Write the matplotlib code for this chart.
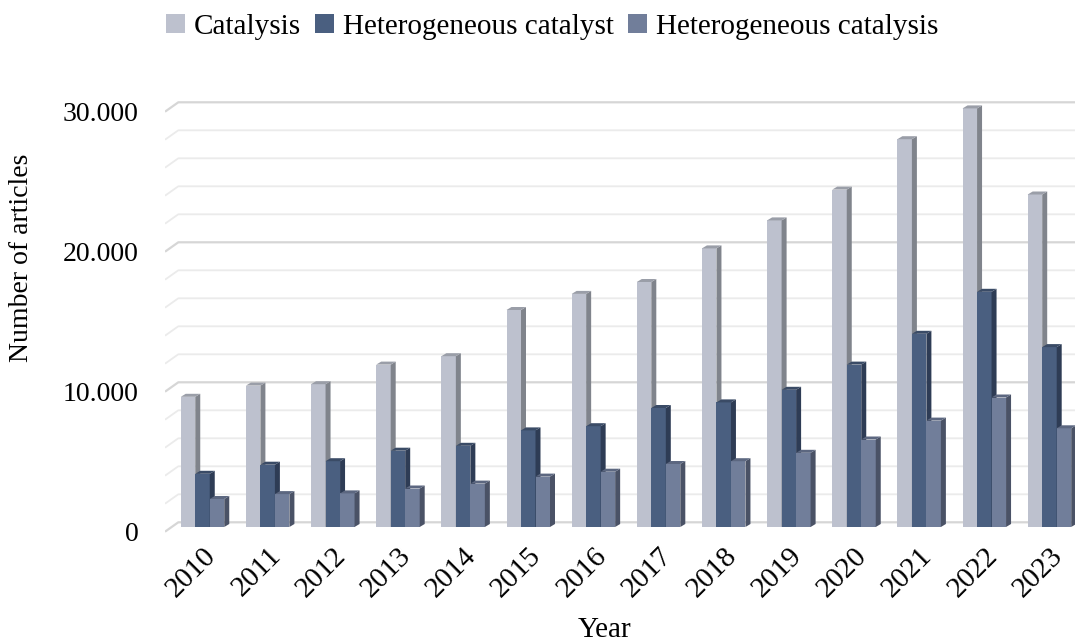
import matplotlib.pyplot as plt
from matplotlib.patches import Polygon

years = [str(y) for y in range(2010, 2024)]
catalysis = [9300, 10100, 10200, 11600, 12200, 15500, 16650, 17500,
             19900, 21900, 24100, 27700, 29900, 23750]
het_catalyst = [3800, 4450, 4700, 5450, 5800, 6900, 7200, 8500,
                8900, 9800, 11600, 13800, 16800, 12850]
het_catalysis = [2000, 2350, 2400, 2750, 3100, 3600, 3950, 4500,
                 4700, 5300, 6250, 7600, 9250, 7050]
series_names = ["Catalysis", "Heterogeneous catalyst", "Heterogeneous catalysis"]
y_ticks = [0, 10000, 20000, 30000]

front_colors = ["#BDC1CE", "#4A5F80", "#717E9A"]
side_colors = ["#80848C", "#2E3C55", "#4A5266"]
top_colors = ["#9A9EA8", "#3A4B66", "#5C6780"]

plt.rcParams["font.family"] = ["Liberation Serif", "DejaVu Serif"]

fig = plt.figure(figsize=(10.8, 6.43), dpi=100)
ax = fig.add_axes([165 / 1080, 103 / 643, 910 / 1080, 445 / 643])

px_per_unit_x = 65.15
px_per_unit_y = 0.014
ax.set_xlim((165 - 202.5) / px_per_unit_x, (1075 - 202.5) / px_per_unit_x)
ax.set_ylim(-(540 - 527) / px_per_unit_y, (527 - 95) / px_per_unit_y)

# perspective offsets (in data units)
bar_w = 14.5 / px_per_unit_x
bar_dx = 5 / px_per_unit_x
bar_dy = 3 / px_per_unit_y
wall_dx = 13.3 / px_per_unit_x
wall_dy = 4.7 / px_per_unit_y
x_left = ax.get_xlim()[0]
x_right = ax.get_xlim()[1]

# back wall gridlines + left wall diagonals
for v in range(0, 30001, 2000):
    major = v % 10000 == 0
    col = "#D6D6D6" if major else "#EBEBEB"
    lw = 1.6 if major else 1.3
    ax.plot([x_left, x_left + wall_dx, x_right], [v - wall_dy, v + wall_dy, v + wall_dy],
            color=col, lw=lw, zorder=1, solid_capstyle="butt")

data = [catalysis, het_catalyst, het_catalysis]
for k, values in enumerate(data):
    for i, v in enumerate(values):
        x0 = i + (k - 1.5) * bar_w
        x1 = x0 + bar_w
        ax.add_patch(Polygon([(x0, 0), (x1, 0), (x1, v), (x0, v)],
                             closed=True, facecolor=front_colors[k], edgecolor="none", zorder=3))
        ax.add_patch(Polygon([(x1, 0), (x1 + bar_dx, bar_dy), (x1 + bar_dx, v + bar_dy), (x1, v)],
                             closed=True, facecolor=side_colors[k], edgecolor="none", zorder=3))
        ax.add_patch(Polygon([(x0, v), (x0 + bar_dx, v + bar_dy), (x1 + bar_dx, v + bar_dy), (x1, v)],
                             closed=True, facecolor=top_colors[k], edgecolor="none", zorder=3))

for s in ax.spines.values():
    s.set_visible(False)

ax.set_yticks([v - wall_dy for v in y_ticks])
ax.set_yticklabels([f"{v:,}".replace(",", ".") for v in y_ticks], fontsize=20)
ax.tick_params(axis="y", length=0, pad=19)

ax.set_xticks(range(len(years)))
ax.set_xticklabels(years, rotation=45, ha="right", rotation_mode="anchor", fontsize=21)
ax.tick_params(axis="x", length=0, pad=2)

ax.set_ylabel("Number of articles", fontsize=20, va="center")
ax.yaxis.set_label_coords((22 - 165) / 910, (540 - 258) / 445)
ax.set_xlabel("Year", fontsize=21, va="center")
ax.xaxis.set_label_coords((605 - 165) / 910, (540 - 630) / 445)

handles = [plt.Rectangle((0, 0), 1, 1, facecolor=c, edgecolor="none") for c in front_colors]
fig.legend(handles, series_names, loc="center", bbox_to_anchor=(552 / 1080, 1 - 27 / 643),
           ncol=3, frameon=False, fontsize=21, handlelength=0.65, handleheight=0.65,
           handletextpad=0.3, columnspacing=0.5)

fig.savefig("out.png", dpi=100)
